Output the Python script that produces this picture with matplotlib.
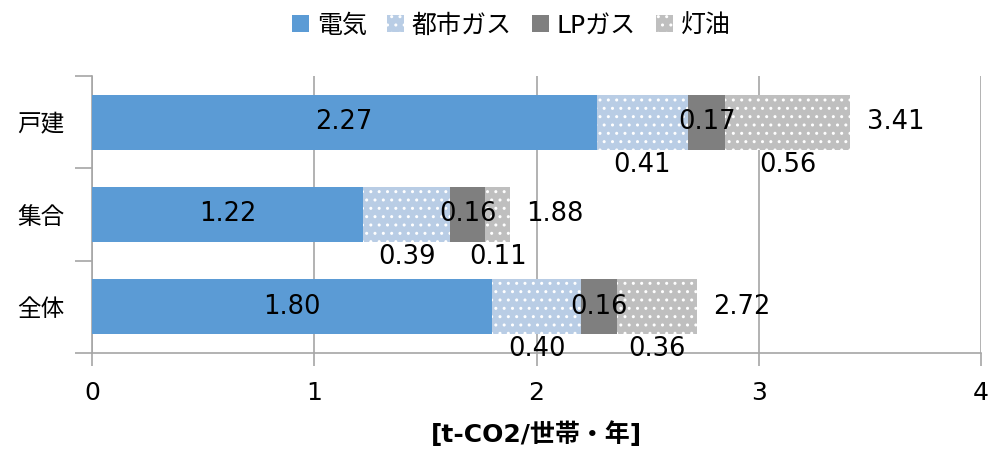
import matplotlib
matplotlib.use("Agg")
import matplotlib.pyplot as plt
import numpy as np

plt.rcParams['font.family'] = ['DejaVu Sans', 'Noto Sans CJK JP']
plt.rcParams['hatch.color'] = 'white'
plt.rcParams['hatch.linewidth'] = 1.0

categories = ["戸建", "集合", "全体"]
series = ["電気", "都市ガス", "LPガス", "灯油"]
electric = [2.27, 1.22, 1.80]
city_gas = [0.41, 0.39, 0.40]
lp_gas = [0.17, 0.16, 0.16]
kerosene = [0.56, 0.11, 0.36]
totals = [3.41, 1.88, 2.72]

colors = ["#5B9BD5", "#B9CDE5", "#7F7F7F", "#BFBFBF"]
hatches = [None, "..", None, ".."]
values = [electric, city_gas, lp_gas, kerosene]

fig = plt.figure(figsize=(9.89, 4.53), dpi=100)
ax = fig.add_axes([0.093, 0.221, 0.899, 0.611])

y = np.arange(len(categories))
left = np.zeros(len(categories))
handles = []
for i in range(4):
    bars = ax.barh(y, values[i], left=left, height=0.6, color=colors[i],
                   hatch=hatches[i], edgecolor="white" if hatches[i] else colors[i],
                   linewidth=0, label=series[i], zorder=3)
    handles.append(bars)
    for j in range(len(categories)):
        xc = left[j] + values[i][j] / 2
        if i in (0, 2):
            # 電気 / LPガス: inside the bar
            ax.text(xc, y[j], f"{values[i][j]:.2f}", ha="center", va="center",
                    fontsize=18.5, zorder=5)
        else:
            # 都市ガス / 灯油: below the bar
            ax.text(xc, y[j] + 0.46, f"{values[i][j]:.2f}", ha="center", va="center",
                    fontsize=18.5, zorder=5)
    left = left + np.array(values[i])

for j in range(len(categories)):
    ax.text(totals[j] + 0.075, y[j], f"{totals[j]:.2f}", ha="left", va="center",
            fontsize=18.5, zorder=5)

ax.set_xlim(0, 4)
ax.set_ylim(2.5, -0.5)
ax.set_xticks([0, 1, 2, 3, 4])
ax.set_yticks(y)
ax.set_yticklabels(categories, fontsize=17)
ax.set_yticks([-0.5, 0.5, 1.5, 2.5], minor=True)
ax.tick_params(axis="y", which="major", length=0, pad=20)
ax.tick_params(axis="y", which="minor", length=12, color="#A6A6A6", width=1.2)
ax.tick_params(axis="x", labelsize=18, length=9, color="#A6A6A6", width=1.2, pad=11)
ax.grid(axis="x", color="#A6A6A6", linewidth=1.2, zorder=0)
for s in ["top", "right"]:
    ax.spines[s].set_visible(False)
for s in ["left", "bottom"]:
    ax.spines[s].set_color("#A6A6A6")
    ax.spines[s].set_linewidth(1.2)
ax.set_xlabel("[t-CO2/世帯・年]", fontsize=18, fontweight="bold", labelpad=12)

fig.legend(handles=handles, labels=series, loc="upper center", ncol=4,
           bbox_to_anchor=(0.517, 1.02), frameon=False, fontsize=18,
           handlelength=0.7, handleheight=0.7, handletextpad=0.3, columnspacing=0.8)

fig.savefig("out.png", dpi=100)
